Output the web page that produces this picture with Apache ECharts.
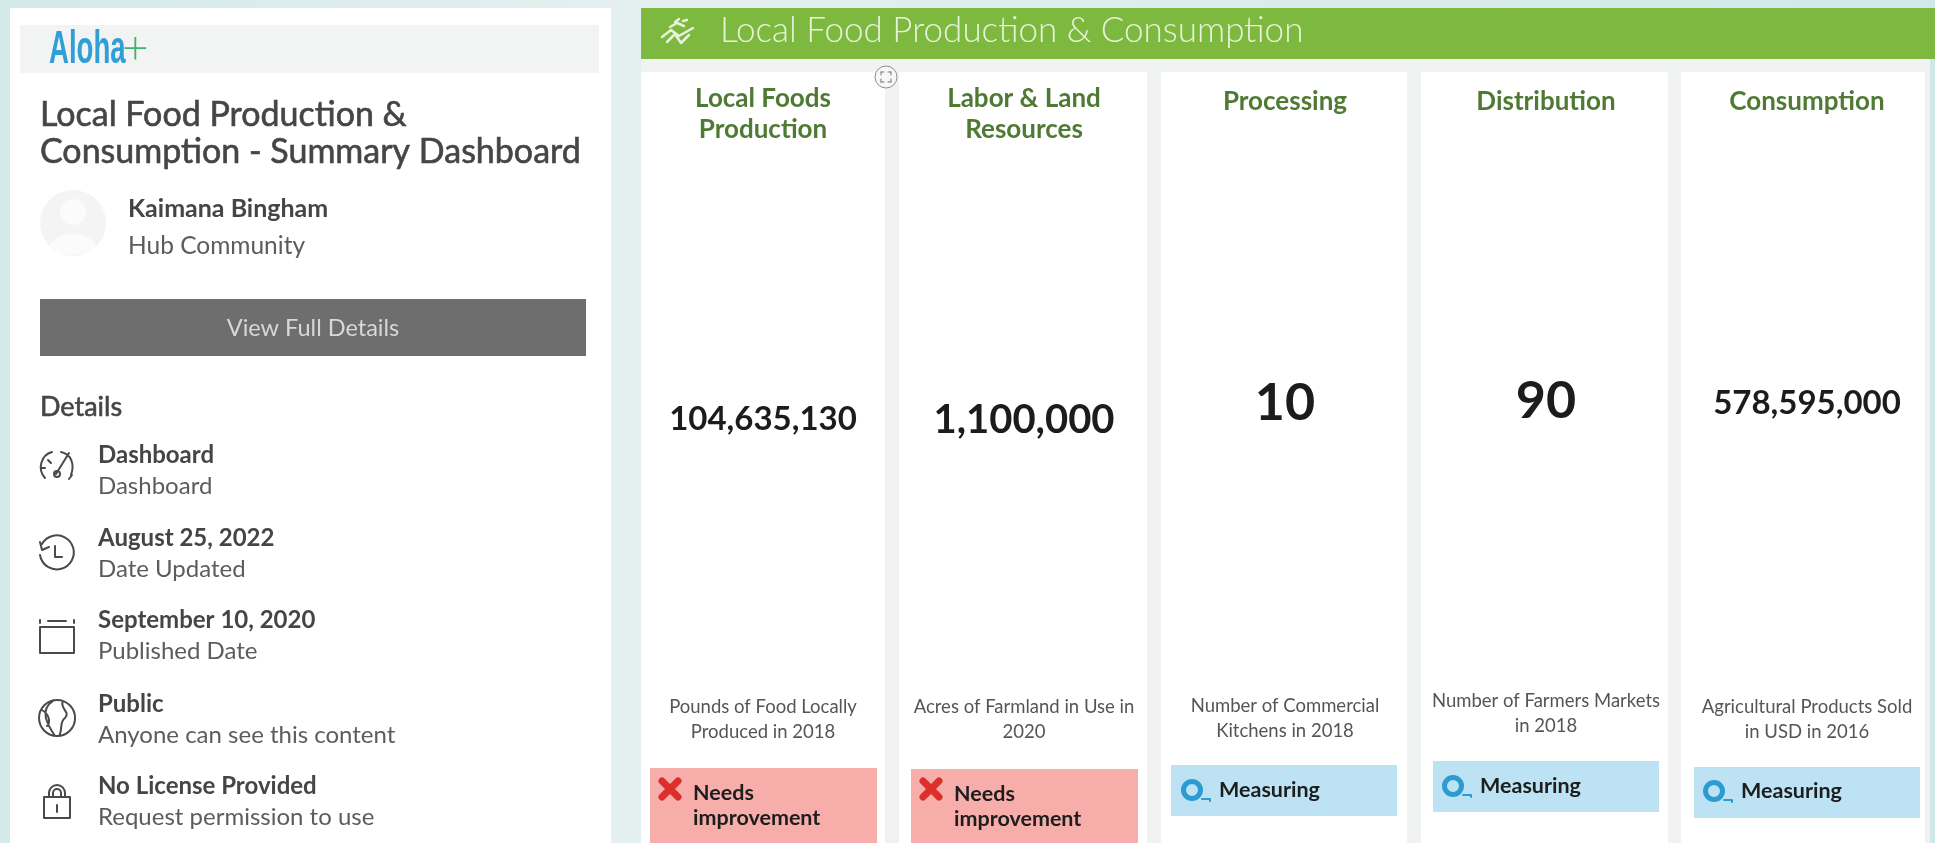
<!DOCTYPE html>
<html>
<head>
<meta charset="utf-8">
<title>Local Food Production & Consumption</title>
<script src="https://cdn.jsdelivr.net/npm/echarts@6/dist/echarts.min.js"></script>
<style>
  html, body { margin: 0; padding: 0; background: #dcedeb; }
  #main { width: 1935px; height: 843px; }
</style>
</head>
<body>
<div id="main"></div>
<script>
// values
const cardTitles = [['Local Foods', 'Production'], ['Labor & Land', 'Resources'], ['Processing'], ['Distribution'], ['Consumption']];
const cardValues = [104635130, 1100000, 10, 90, 578595000];
const cardCaptions = [
  ['Pounds of Food Locally', 'Produced in 2018'],
  ['Acres of Farmland in Use in', '2020'],
  ['Number of Commercial', 'Kitchens in 2018'],
  ['Number of Farmers Markets', 'in 2018'],
  ['Agricultural Products Sold', 'in USD in 2016']
];
const cardStatus = [['Needs', 'improvement'], ['Needs', 'improvement'], ['Measuring'], ['Measuring'], ['Measuring']];
const detailTitles = ['Dashboard', 'August 25, 2022', 'September 10, 2020', 'Public', 'No License Provided'];
const detailNotes = ['Dashboard', 'Date Updated', 'Published Date', 'Anyone can see this content', 'Request permission to use'];

const FONT = 'Lato, "Open Sans", sans-serif';
const items = [];
let iconCount = 0;

function rect(x, y, w, h, fill) {
  items.push({ type: 'rect', silent: true, shape: { x: x, y: y, width: w, height: h }, style: { fill: fill } });
}
// y is the text baseline, heavy thickens a regular weight a little (no medium Lato here)
function label(str, x, y, size, weight, fill, align, heavy) {
  items.push({
    type: 'text', silent: true,
    style: {
      x: x, y: y - size * 0.34, text: str, fill: fill,
      font: weight + ' ' + size + 'px ' + FONT,
      textAlign: align || 'left', textVerticalAlign: 'middle',
      stroke: heavy ? fill : 'none', lineWidth: heavy || 0
    }
  });
}
// graphic has no plain path type, so each svg path gets registered as a shape
function icon(d, x, y, color, width, fill) {
  const name = 'icon' + (iconCount++);
  echarts.graphic.registerShape(name, echarts.graphic.extendPath(d));
  items.push({
    type: name, x: x, y: y, silent: true,
    style: { fill: fill || 'none', stroke: fill ? 'none' : (color || '#4a4a4a'), lineWidth: width || 2, lineCap: 'round', lineJoin: 'round' }
  });
}

// page background
items.push({
  type: 'rect', silent: true, shape: { x: 0, y: 0, width: 1935, height: 843 },
  style: { fill: { type: 'linear', x: 0, y: 0, x2: 1, y2: 0, colorStops: [
    { offset: 0, color: '#d3eae8' }, { offset: 0.33, color: '#e4f0ef' }, { offset: 1, color: '#cfe9e8' }
  ] } }
});

// left panel
rect(10, 8, 601, 835, '#ffffff');
rect(20, 25, 579, 48, '#f2f4f3');
items.push({
  type: 'text', silent: true, scaleX: 0.6,
  x: 49, y: 50,
  style: { x: 0, y: 0, text: 'Aloha', fill: '#2f9fd6', font: 'bold 46px "Liberation Sans", sans-serif', textVerticalAlign: 'middle' }
});
label('+', 122, 64, 46, 300, '#3fb06f');
label('Local Food Production &', 40, 127, 34, 400, '#454545', 'left', 0.6);
label('Consumption - Summary Dashboard', 40, 164, 34, 400, '#454545', 'left', 0.6);

items.push({ type: 'circle', silent: true, shape: { cx: 73, cy: 223, r: 33 }, style: { fill: '#f4f4f4' } });
items.push({ type: 'circle', silent: true, shape: { cx: 73, cy: 212, r: 13 }, style: { fill: '#fbfbfb' } });
icon('M50 246 C54 230 92 230 96 246 C88 258 58 258 50 246 Z', 0, 0, null, 1, '#fbfbfb');
label('Kaimana Bingham', 128, 217, 25, 'bold', '#454545');
label('Hub Community', 128, 254, 24.5, 400, '#5c5c5c');

rect(40, 299, 546, 57, '#6e6e6e');
label('View Full Details', 313, 336, 23.5, 400, '#d8d8d8', 'center');
label('Details', 40, 416, 27, 400, '#454545', 'left', 0.6);

const detailBase = [463, 546, 628, 712, 794];
detailTitles.forEach(function (t, i) {
  label(t, 98, detailBase[i], 24, 'bold', '#454545');
  label(detailNotes[i], 98, detailBase[i] + 31, 24, 400, '#5c5c5c');
});

// detail icons
icon('M-12 11 C-20 2 -16 -12 -5 -15 M4 -15 C14 -13 18 -3 14 8 M-9 -7 L-6 -4 M-15 1 L-12 1 M12 -14 L-1 7 M-3 7 a3 3 0 1 0 6 0 a3 3 0 1 0 -6 0 M12 12 L15 8', 57, 467);
icon('M-15 -9 A17 17 0 1 1 -17 2 M-17 -11 L-15 -3 L-8 -6 M-2 -7 L-2 4 L5 4', 57, 553);
icon('M-17 -8 L17 -8 L17 18 L-17 18 Z M-17 -15 L-17 -12 M17 -15 L17 -12 M-9 -14 L9 -14', 57, 635);
icon('M0 -18 A18 18 0 1 0 0.1 -18 M-4 -17 C-18 -8 -10 6 -2 18 M6 -17 C2 -10 14 -6 8 0 C2 4 6 12 2 18 M-15 -8 C-8 -4 -6 4 -10 8', 57, 718);
icon('M-13 -6 L13 -6 L13 15 L-13 15 Z M-8 -6 L-8 -10 A8 8 0 0 1 8 -10 L8 -6 M-4 -6 L-4 -10 A4 4 0 0 1 4 -10 L4 -6 M0 2 L0 9', 57, 803);

// green banner and dashboard body
rect(641, 59, 1289, 784, '#f1f3f3');
rect(641, 8, 1294, 51, '#7cb93e');
icon('M-16 6 L-7 -1 L1 5 L15 -3 M-11 11 L-3 3 L3 12 L11 4 M-8 -4 L-1 -8 L6 -5 M-3 -9 L1 -12 M5 -10 L9 -11', 678, 31, '#e8f2dc', 2.5);
label('Local Food Production & Consumption', 720, 43, 35, 300, '#e8f2dc');

// cards
const cardBoxes = [[641, 244], [899, 248], [1161, 246], [1421, 247], [1681, 244]];
const centers = [763, 1024, 1285, 1546, 1807];
const valueCy = [431, 434, 421, 419, 415];
const valueSize = [33, 40, 52, 52, 33];
const captionBase = [713, 713, 712, 707, 713];
const statusBox = [[650, 768, 227, 75], [911, 769, 227, 74], [1171, 765, 226, 51], [1433, 761, 226, 51], [1694, 767, 226, 51]];
const statusText = [693, 954, 1219, 1480, 1741];
const statusBase = [800, 801, 797, 793, 798];

cardTitles.forEach(function (title, i) {
  rect(cardBoxes[i][0], 72, cardBoxes[i][1], 771, '#ffffff');
  title.forEach(function (line, k) {
    label(line, centers[i], (title.length > 1 ? 107 : 110) + k * 31, 26, 'bold', '#4f7a34', 'center');
  });
  label(cardValues[i].toLocaleString('en-US'), centers[i], valueCy[i], valueSize[i], 'bold', '#1c1c1c', 'center');
  cardCaptions[i].forEach(function (line, k) {
    label(line, centers[i], captionBase[i] + k * 25, 18.5, 400, '#555555', 'center');
  });
  const b = statusBox[i];
  const measuring = cardStatus[i].length === 1;
  rect(b[0], b[1], b[2], b[3], measuring ? '#bce2f4' : '#f7aeaa');
  cardStatus[i].forEach(function (line, k) {
    label(line, statusText[i], statusBase[i] + k * 25, 21.5, 'bold', '#1d1d1d');
  });
  if (measuring) {
    const ix = statusText[i] - 27;
    const iy = statusBase[i] - 7;
    items.push({ type: 'circle', silent: true, shape: { cx: ix, cy: iy, r: 8.5 }, style: { fill: 'none', stroke: '#2b9bd0', lineWidth: 5 } });
    icon('M10 9 L18 9 L18 11', ix, iy, '#2b9bd0', 2);
  } else {
    icon('M-8 -8 L8 8 M8 -8 L-8 8', statusText[i] - 23, 789, '#dc2f2b', 7);
  }
});

// resize handle on the first divider
items.push({ type: 'circle', silent: true, shape: { cx: 886, cy: 77, r: 11 }, style: { fill: '#f8f8f8', stroke: '#8e8e8e', lineWidth: 1 } });
icon('M-5 -5 L-2 -5 M-5 -5 L-5 -2 M5 -5 L2 -5 M5 -5 L5 -2 M-5 5 L-2 5 M-5 5 L-5 2 M5 5 L2 5 M5 5 L5 2', 886, 77, '#777777', 1);

const chart = echarts.init(document.getElementById('main'));
chart.setOption({ animation: false, graphic: { elements: items } });
</script>
</body>
</html>
